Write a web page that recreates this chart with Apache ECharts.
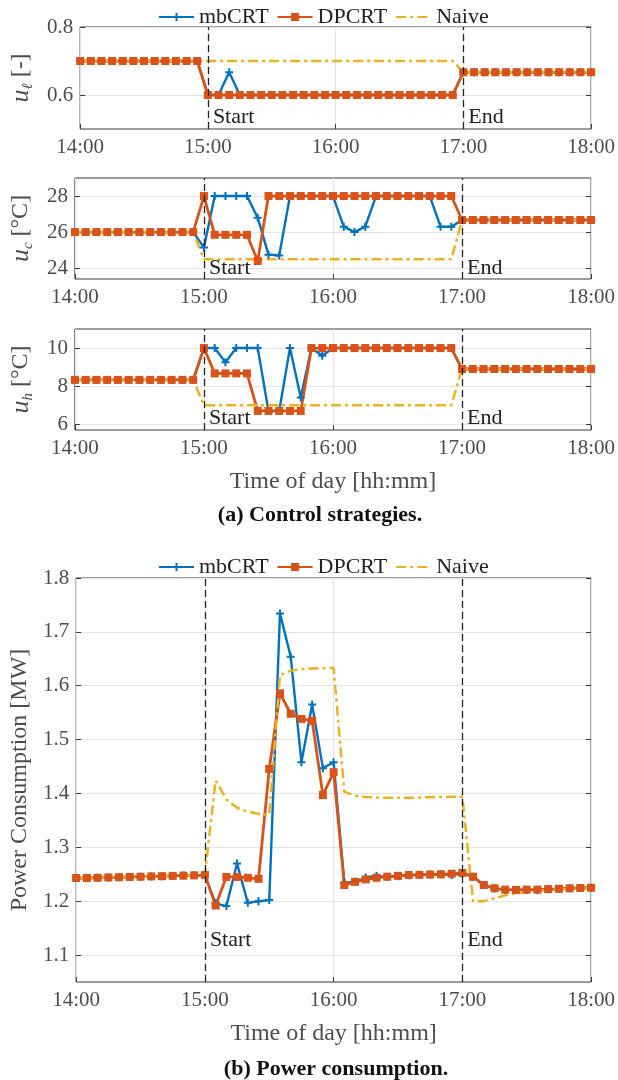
<!DOCTYPE html>
<html>
<head>
<meta charset="utf-8">
<title>Control strategies / power consumption</title>
<script src="https://cdn.jsdelivr.net/npm/echarts@6/dist/echarts.min.js"></script>
<style>
  html, body { margin: 0; padding: 0; background: #fff; }
  #main { width: 618px; height: 1080px; }
</style>
</head>
<body>
<div id="main"></div>
<script>
// time of day, 5 min steps
const times = ['14:00','14:05','14:10','14:15','14:20','14:25','14:30','14:35','14:40','14:45','14:50','14:55',
  '15:00','15:05','15:10','15:15','15:20','15:25','15:30','15:35','15:40','15:45','15:50','15:55',
  '16:00','16:05','16:10','16:15','16:20','16:25','16:30','16:35','16:40','16:45','16:50','16:55',
  '17:00','17:05','17:10','17:15','17:20','17:25','17:30','17:35','17:40','17:45','17:50','17:55','18:00'];

// u_l [-]
const ulMb = [0.7,0.7,0.7,0.7,0.7,0.7,0.7,0.7,0.7,0.7,0.7,0.7,
  0.6,0.6,0.667,0.6,0.6,0.6,0.6,0.6,0.6,0.6,0.6,0.6,
  0.6,0.6,0.6,0.6,0.6,0.6,0.6,0.6,0.6,0.6,0.6,0.6,
  0.667,0.667,0.667,0.667,0.667,0.667,0.667,0.667,0.667,0.667,0.667,0.667,0.667];
const ulDp = [0.7,0.7,0.7,0.7,0.7,0.7,0.7,0.7,0.7,0.7,0.7,0.7,
  0.6,0.6,0.6,0.6,0.6,0.6,0.6,0.6,0.6,0.6,0.6,0.6,
  0.6,0.6,0.6,0.6,0.6,0.6,0.6,0.6,0.6,0.6,0.6,0.6,
  0.667,0.667,0.667,0.667,0.667,0.667,0.667,0.667,0.667,0.667,0.667,0.667,0.667];
const ulNaive = [0.7,0.7,0.7,0.7,0.7,0.7,0.7,0.7,0.7,0.7,0.7,0.7,
  0.7,0.7,0.7,0.7,0.7,0.7,0.7,0.7,0.7,0.7,0.7,0.7,
  0.7,0.7,0.7,0.7,0.7,0.7,0.7,0.7,0.7,0.7,0.7,0.7,
  0.667,0.667,0.667,0.667,0.667,0.667,0.667,0.667,0.667,0.667,0.667,0.667,0.667];

// u_c [°C]
const ucMb = [26,26,26,26,26,26,26,26,26,26,26,26,
  25.15,28,28,28,28,26.8,24.75,24.7,28,28,28,28,
  28,26.3,26.0,26.3,28,28,28,28,28,28,26.3,26.3,
  26.67,26.67,26.67,26.67,26.67,26.67,26.67,26.67,26.67,26.67,26.67,26.67,26.67];
const ucDp = [26,26,26,26,26,26,26,26,26,26,26,26,
  28,25.85,25.85,25.85,25.85,24.4,28,28,28,28,28,28,
  28,28,28,28,28,28,28,28,28,28,28,28,
  26.67,26.67,26.67,26.67,26.67,26.67,26.67,26.67,26.67,26.67,26.67,26.67,26.67];
const ucNaive = [26,26,26,26,26,26,26,26,26,26,26,26,
  24.5,24.5,24.5,24.5,24.5,24.5,24.5,24.5,24.5,24.5,24.5,24.5,
  24.5,24.5,24.5,24.5,24.5,24.5,24.5,24.5,24.5,24.5,24.5,24.5,
  26.67,26.67,26.67,26.67,26.67,26.67,26.67,26.67,26.67,26.67,26.67,26.67,26.67];

// u_h [°C]
const uhMb = [8.33,8.33,8.33,8.33,8.33,8.33,8.33,8.33,8.33,8.33,8.33,8.33,
  10,10,9.25,10,10,10,6.7,6.7,10,7.4,10,9.6,
  10,10,10,10,10,10,10,10,10,10,10,10,
  8.9,8.9,8.9,8.9,8.9,8.9,8.9,8.9,8.9,8.9,8.9,8.9,8.9];
const uhDp = [8.33,8.33,8.33,8.33,8.33,8.33,8.33,8.33,8.33,8.33,8.33,8.33,
  10,8.67,8.67,8.67,8.67,6.7,6.7,6.7,6.7,6.7,10,10,
  10,10,10,10,10,10,10,10,10,10,10,10,
  8.9,8.9,8.9,8.9,8.9,8.9,8.9,8.9,8.9,8.9,8.9,8.9,8.9];
const uhNaive = [8.33,8.33,8.33,8.33,8.33,8.33,8.33,8.33,8.33,8.33,8.33,8.33,
  7,7,7,7,7,7,7,7,7,7,7,7,
  7,7,7,7,7,7,7,7,7,7,7,7,
  8.9,8.9,8.9,8.9,8.9,8.9,8.9,8.9,8.9,8.9,8.9,8.9,8.9];

// power consumption [MW]
const pwMb = [1.243,1.243,1.2435,1.244,1.2445,1.245,1.2455,1.246,1.2465,1.247,1.2475,1.248,
  1.2485,1.196,1.191,1.270,1.197,1.200,1.202,1.734,1.654,1.458,1.565,1.447,
  1.458,1.234,1.236,1.244,1.247,1.245,1.2465,1.248,1.249,1.2495,1.250,1.2485,
  1.2515,1.2455,1.230,1.2235,1.221,1.221,1.221,1.2205,1.222,1.2225,1.224,1.2245,1.225];
const pwDp = [1.243,1.243,1.2435,1.244,1.2445,1.245,1.2455,1.246,1.2465,1.247,1.2475,1.248,
  1.2485,1.192,1.245,1.245,1.2435,1.2415,1.4455,1.586,1.548,1.5385,1.535,1.397,
  1.4395,1.230,1.236,1.2405,1.2435,1.2455,1.247,1.2485,1.249,1.2495,1.250,1.251,
  1.2525,1.2455,1.230,1.224,1.2215,1.221,1.2215,1.2215,1.2225,1.223,1.224,1.2245,1.225];
const pwNaive = [1.243,1.243,1.2435,1.244,1.2445,1.245,1.2455,1.246,1.2465,1.247,1.2475,1.248,
  1.2485,1.424,1.389,1.3735,1.366,1.3625,1.3605,1.620,1.628,1.631,1.632,1.6325,
  1.633,1.403,1.396,1.3935,1.3925,1.392,1.392,1.392,1.3925,1.393,1.3935,1.394,
  1.394,1.200,1.200,1.2055,1.211,1.2145,1.217,1.219,1.221,1.222,1.223,1.224,1.225];

// tick labels
const ulTicks = [0.6, 0.8];
const ucTicks = [24, 26, 28];
const uhTicks = [6, 8, 10];
const pwTicks = [1.1, 1.2, 1.3, 1.4, 1.5, 1.6, 1.7, 1.8];

const seriesNames = ['mbCRT', 'DPCRT', 'Naive'];
const eventTimes = ['15:00', '17:00'];
const eventNames = ['Start', 'End'];

let myChart = echarts.init(document.getElementById('main'));

const FONT = 'Liberation Serif';
const TXT = '#4d4d4d';
const AX = '#3a3a3a';
const GRIDC = '#e4e4e4';
const plusPath = 'path://M3,0H5V3H8V5H5V8H3V5H0V3H3Z';
const naiveDash = [10, 4, 3, 4];

// panel layout: top, height, y range, where the Start/End text sits (data units)
const panels = [
  { top: 27,  height: 102, min: 0.5,  max: 0.8, ticks: ulTicks, name: '{i|u}{s|ℓ} [-]',   data: [ulMb, ulDp, ulNaive], textY: 0.534, xName: '' },
  { top: 178, height: 101, min: 23.4, max: 29,  ticks: ucTicks, name: '{i|u}{s|c} [°C]',  data: [ucMb, ucDp, ucNaive], textY: 24.0,  xName: '' },
  { top: 329, height: 101, min: 5.7,  max: 11,  ticks: uhTicks, name: '{i|u}{s|h} [°C]',  data: [uhMb, uhDp, uhNaive], textY: 6.32,  xName: 'Time of day [hh:mm]' },
  { top: 578, height: 404, min: 1.05, max: 1.8, ticks: pwTicks, name: 'Power Consumption [MW]', data: [pwMb, pwDp, pwNaive], textY: 1.128, xName: 'Time of day [hh:mm]' }
];

let grids = [], xAxes = [], yAxes = [], series = [];
panels.forEach(function (p, i) {
    grids.push({ left: 73, top: p.top, width: 520, height: p.height, show: true, borderColor: AX, borderWidth: 1 });
    xAxes.push({
        type: 'category', gridIndex: i, data: times, boundaryGap: false,
        axisLine: { show: false },
        axisTick: { show: true, inside: true, interval: 11, length: 5, lineStyle: { color: AX } },
        axisLabel: { interval: 11, margin: 8, fontFamily: FONT, fontSize: 21, color: TXT },
        splitLine: { show: true, interval: 11, lineStyle: { color: GRIDC } },
        name: p.xName, nameLocation: 'middle', nameGap: 40,
        nameTextStyle: { fontFamily: FONT, fontSize: 24, color: TXT }
    });
    yAxes.push({
        type: 'value', gridIndex: i, min: p.min, max: p.max, position: 'left',
        axisLine: { show: false },
        axisTick: { show: true, inside: true, length: 5, customValues: p.ticks, lineStyle: { color: AX } },
        axisLabel: { customValues: p.ticks, margin: 7, fontFamily: FONT, fontSize: 21, color: TXT },
        splitLine: { show: true, lineStyle: { color: GRIDC } },
        name: p.name, nameLocation: 'middle', nameGap: 38, nameRotate: 90,
        nameTextStyle: {
            fontFamily: FONT, fontSize: 24, color: TXT,
            rich: {
                i: { fontFamily: FONT, fontStyle: 'italic', fontSize: 26, color: TXT, lineHeight: 30 },
                s: { fontFamily: FONT, fontStyle: 'italic', fontSize: 15, color: TXT, lineHeight: 14, verticalAlign: 'bottom' }
            }
        }
    });
    // series: mbCRT, DPCRT, Naive (Naive drawn last, on top)
    series.push({
        name: seriesNames[0], type: 'line', xAxisIndex: i, yAxisIndex: i, data: p.data[0],
        symbol: plusPath, symbolSize: 8, showAllSymbol: true,
        lineStyle: { width: 2.4, color: '#0072BD' }, itemStyle: { color: '#0072BD' }
    });
    series.push({
        name: seriesNames[1], type: 'line', xAxisIndex: i, yAxisIndex: i, data: p.data[1],
        symbol: 'rect', symbolSize: 8, showAllSymbol: true,
        lineStyle: { width: 2.8, color: '#D95319' }, itemStyle: { color: '#D95319' }
    });
    series.push({
        name: seriesNames[2], type: 'line', xAxisIndex: i, yAxisIndex: i, data: p.data[2],
        symbol: 'none',
        lineStyle: { width: 2.5, color: '#EDB120', type: naiveDash }, itemStyle: { color: '#EDB120' },
        markLine: {
            symbol: 'none', silent: true, label: { show: false },
            lineStyle: { color: '#222', type: [7, 4], width: 1.3 },
            data: eventTimes.map(function (t) { return { xAxis: t }; })
        },
        markPoint: {
            symbol: 'circle', symbolSize: 0, silent: true,
            label: { show: true, position: 'right', distance: 5, formatter: '{b}', fontFamily: FONT, fontSize: 22, color: '#222' },
            data: eventTimes.map(function (t, k) { return { name: eventNames[k], coord: [t, p.textY] }; })
        }
    });
});

// right-hand ticks (MATLAB box)
panels.forEach(function (p, i) {
    yAxes.push({
        type: 'value', gridIndex: i, min: p.min, max: p.max, position: 'right',
        axisLine: { show: false },
        axisTick: { show: true, inside: true, length: 5, customValues: p.ticks, lineStyle: { color: AX } },
        axisLabel: { show: false }, splitLine: { show: false }
    });
});

const legendBase = {
    left: 153, itemWidth: 35, itemHeight: 10, itemGap: 8,
    textStyle: { fontFamily: FONT, fontSize: 22, color: '#222' },
    data: [
        { name: seriesNames[0] },
        { name: seriesNames[1] },
        { name: seriesNames[2], itemStyle: { opacity: 0 } }
    ]
};

let option = {
    animation: false,
    backgroundColor: '#fff',
    title: [
        { text: '(a) Control strategies.', left: 315, top: 499, textAlign: 'center',
          textStyle: { fontFamily: FONT, fontWeight: 'bold', fontSize: 22, color: '#111' } },
        { text: '(b) Power consumption.', left: 331, top: 1053, textAlign: 'center',
          textStyle: { fontFamily: FONT, fontWeight: 'bold', fontSize: 22, color: '#111' } }
    ],
    legend: [
        Object.assign({ top: 1 }, legendBase),
        Object.assign({ top: 551 }, legendBase)
    ],
    grid: grids,
    xAxis: xAxes,
    yAxis: yAxes,
    series: series
};
myChart.setOption(option);
</script>
</body>
</html>
